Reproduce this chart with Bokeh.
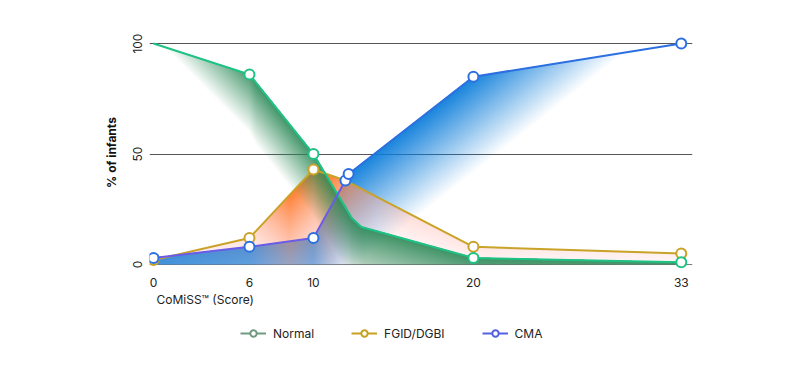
import numpy as np
from bokeh.plotting import figure
from bokeh.layouts import column
from bokeh.models import Range1d, Span, Title, Legend, LegendItem, FixedTicker
from bokeh.embed import file_html
from bokeh.resources import INLINE

# ---------------- data ----------------
series_names = ["Normal", "FGID/DGBI", "CMA"]

normal_x = [0, 6, 10, 12.4, 13, 20, 33]
normal_y = [100, 86, 50, 21, 17, 3, 1]
normal_marked = [False, True, True, False, False, True, True]

fgid_x = [0, 6, 10, 12, 20, 33]
fgid_y = [2, 12, 43, 38, 8, 5]
fgid_marked = [True, True, True, False, True, True]

cma_x = [0, 6, 10, 12, 12.2, 20, 33]
cma_y = [3, 8, 12, 38, 41, 85, 100]
cma_marked = [True, True, True, True, True, True, True]

x_ticks = [0, 6, 10, 20, 33]
y_ticks = [0, 50, 100]
grid_values = [50, 100]

# ---------------- styles ----------------
FONT = "Inter"
normal_line = "#1fc285"
fgid_line = "#c9a227"
cma_line = "#2c6fe0"
cma_line_left = "#6a5ce6"
legend_colors = ["#6f9a80", "#c8a020", "#5560e0"]

X0, X1 = -0.25, 33.7
Y0, Y1 = -1.8, 103.2

p = figure(frame_width=543, frame_height=232, x_range=Range1d(X0, X1), y_range=Range1d(Y0, Y1),
           output_backend="svg", toolbar_location=None,
           min_border_left=149, min_border_right=108, min_border_top=36, min_border_bottom=50)
p.outline_line_color = None
p.background_fill_color = "white"
p.border_fill_color = "white"

# ---------------- gradient fills (computed from the series) ----------------
nx, ny = 1086, 464
xs = X0 + (np.arange(nx) + 0.5) * (X1 - X0) / nx
ys = Y0 + (np.arange(ny) + 0.5) * (Y1 - Y0) / ny
XX, YY = np.meshgrid(xs, ys)


def depth_below(sx, sy):
    top = np.interp(XX, sx, sy, left=np.nan, right=np.nan)
    dep = top - YY
    inside = np.nan_to_num((YY >= 0) & (dep >= 0), nan=0).astype(bool)
    return np.where(inside, dep, 0.0), inside


out_c = np.full((ny, nx, 3), 255.0)
out_a = np.zeros((ny, nx))


def comp(color, alpha):
    global out_c, out_a
    a = alpha[..., None]
    new_a = alpha + out_a * (1 - alpha)
    na = np.where(new_a > 0, new_a, 1)[..., None]
    out_c = (color * a + out_c * out_a[..., None] * (1 - a)) / na
    out_a = new_a


# blue (CMA): strong near its line, fading with depth and to the right
dep, ins = depth_below(cma_x, cma_y)
xf = np.minimum(0.95, 0.95 - 0.1 * (XX - 20))
a = np.clip(xf - dep / 46.0, 0, 0.95) * ins
comp(np.array([12, 125, 218], float), a)

# orange (FGID): strong around the peak, pale pink elsewhere
dep, ins = depth_below(fgid_x, fgid_y)
xf = np.interp(XX, [0, 6, 8.5, 11, 14, 20, 33], [0.15, 0.35, 0.95, 0.95, 0.45, 0.3, 0.22])
a = np.clip(xf - dep / 60.0, 0.12, 0.95) * ins
t = np.clip((0.95 - a) / 0.8, 0, 1)[..., None]
col = np.array([255, 122, 40], float) * (1 - t) + np.array([255, 190, 200], float) * t
comp(col, a)

# green (Normal): strong near its line, fading with depth and towards x=0
dep, ins = depth_below(normal_x, normal_y)
xf = np.clip(-0.1 + 0.16 * XX, 0, 0.92)
a = np.clip(xf - dep / 31.0, 0, 0.92) * ins
comp(np.array([45, 138, 88], float), a)

rgba = np.zeros((ny, nx), dtype=np.uint32)
view = rgba.view(dtype=np.uint8).reshape((ny, nx, 4))
view[..., 0] = np.clip(out_c[..., 0], 0, 255).astype(np.uint8)
view[..., 1] = np.clip(out_c[..., 1], 0, 255).astype(np.uint8)
view[..., 2] = np.clip(out_c[..., 2], 0, 255).astype(np.uint8)
view[..., 3] = np.clip(out_a * 255, 0, 255).astype(np.uint8)
p.image_rgba(image=[rgba], x=X0, y=Y0, dw=X1 - X0, dh=Y1 - Y0)

# ---------------- baseline ----------------
p.add_layout(Span(location=0, dimension="width", line_color="#7a7a7a", line_width=1, level="underlay"))

# ---------------- lines ----------------
p.line(fgid_x, fgid_y, line_color=fgid_line, line_width=2)
p.line(normal_x, normal_y, line_color=normal_line, line_width=2)
cma_seg_colors = [cma_line_left if x1 <= 12 else cma_line for x1 in cma_x[1:]]
p.segment(x0=cma_x[:-1], y0=cma_y[:-1], x1=cma_x[1:], y1=cma_y[1:],
          line_color=cma_seg_colors, line_width=2, line_cap="round")

# ---------------- markers ----------------
def marked(xv, yv, flags):
    return [x for x, f in zip(xv, flags) if f], [y for y, f in zip(yv, flags) if f]

mx, my = marked(fgid_x, fgid_y, fgid_marked)
p.scatter(mx, my, marker="circle", size=10, fill_color="white", line_color=fgid_line, line_width=2)
mx, my = marked(normal_x, normal_y, normal_marked)
p.scatter(mx, my, marker="circle", size=10, fill_color="white", line_color=normal_line, line_width=2)
mx, my = marked(cma_x, cma_y, cma_marked)
p.scatter(mx, my, marker="circle", size=10, fill_color="white", line_color=cma_line, line_width=2)

# ---------------- axes / grid ----------------
p.xgrid.grid_line_color = None
p.ygrid.ticker = FixedTicker(ticks=grid_values)
p.ygrid.grid_line_color = "#555555"
p.ygrid.grid_line_width = 1

p.xaxis.ticker = FixedTicker(ticks=x_ticks)
p.yaxis.ticker = FixedTicker(ticks=y_ticks)
for ax in (p.xaxis, p.yaxis):
    ax.axis_line_color = None
    ax.major_tick_line_color = None
    ax.minor_tick_line_color = None
    ax.major_label_text_font = FONT
    ax.major_label_text_font_size = "12px"
    ax.major_label_text_color = "#222222"
p.xaxis.major_label_standoff = 3
p.yaxis.major_label_orientation = "vertical"
p.yaxis.major_label_standoff = 1
p.yaxis.axis_label = "% of infants"
p.yaxis.axis_label_text_font = FONT
p.yaxis.axis_label_text_font_size = "12px"
p.yaxis.axis_label_text_font_style = "bold"
p.yaxis.axis_label_text_color = "#111111"
p.yaxis.axis_label_standoff = 12

p.add_layout(Title(text="CoMiSS\u2122 (Score)", align="left", offset=7, standoff=0,
                   text_font=FONT, text_font_size="12px", text_font_style="normal",
                   text_color="#222222"), "below")

# ---------------- legend (own strip under the chart; frame aligned with the chart's) ----------------
lf = figure(width=800, height=67, output_backend="svg", toolbar_location=None,
            x_range=Range1d(0, 1), y_range=Range1d(0, 1),
            x_axis_type=None, y_axis_type=None, min_border=0)
lf.outline_line_color = None
lf.xgrid.grid_line_color = None
lf.ygrid.grid_line_color = None
items = []
for name, c in zip(series_names, legend_colors):
    # legend proxies: a single NaN point, so nothing is drawn in the strip itself
    lr = lf.line(x=[np.nan], y=[np.nan], line_color=c, line_width=2)
    sr = lf.scatter(x=[np.nan], y=[np.nan], marker="circle", size=9, fill_color="white",
                    line_color=c, line_width=2)
    items.append(LegendItem(label=name, renderers=[lr, sr]))
legend = Legend(items=items, orientation="horizontal", location=(91, 44),
                border_line_color=None, background_fill_alpha=0,
                label_text_font=FONT, label_text_font_size="12px", label_text_color="#222222",
                glyph_width=26, glyph_height=16, label_height=16, label_standoff=7, spacing=37,
                margin=0, padding=0)
lf.add_layout(legend, "center")

layout = column(p, lf, spacing=0)
open("out.html", "w").write(file_html(layout, INLINE))
